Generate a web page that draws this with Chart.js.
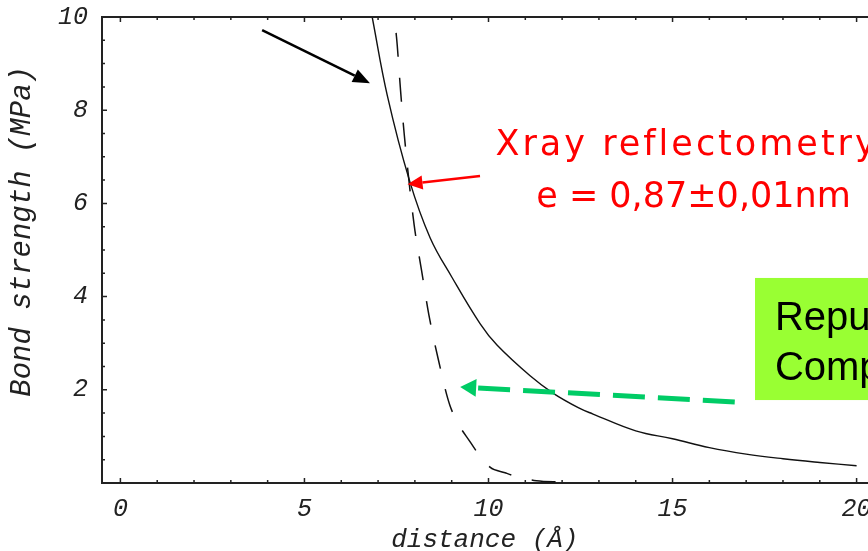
<!DOCTYPE html>
<html>
<head>
<meta charset="utf-8">
<title>Bond strength vs distance</title>
<script src="https://cdn.jsdelivr.net/npm/chart.js@4"></script>
<style>
  html, body { margin: 0; padding: 0; background: #fff; overflow: hidden; }
  #wrap { width: 880px; height: 551px; }
</style>
</head>
<body>
<div id="wrap"><canvas id="myChart" width="880" height="551"></canvas></div>
<script>
// measured curve (solid)
const distSolid = [6.84, 7.25, 7.85, 8.41, 9.01, 9.77, 10.23, 11.13, 11.75, 12.48, 12.84, 14, 15, 16, 17, 18, 19, 20];
const strengthSolid = [10, 8.32, 6.5, 5.27, 4.41, 3.42, 2.96, 2.3, 1.93, 1.6, 1.48, 1.12, 0.95, 0.76, 0.62, 0.52, 0.44, 0.37];

// model curve (dashed)
const distDashed = [7.49, 7.52, 7.61, 7.71, 7.98, 8.18, 8.38, 8.64, 8.95, 9.52, 10.04, 10.45, 10.8, 11.3, 12.0];
const strengthDashed = [9.66, 9.40, 8.43, 7.49, 5.54, 4.57, 3.61, 2.64, 1.67, 0.86, 0.34, 0.22, 0.13, 0.05, 0.02];

const xTickLabels = [0, 5, 10, 15, 20];
const yTickLabels = [2, 4, 6, 8, 10];

const monoFont = '"Liberation Mono", "Courier New", monospace';

function toPoints(xs, ys) {
    return xs.map((x, i) => ({ x: x, y: ys[i] }));
}

function arrow(ctx, x1, y1, x2, y2, color, width, headLen, headHalf, dash) {
    const ang = Math.atan2(y2 - y1, x2 - x1);
    const bx = x2 - Math.cos(ang) * headLen;
    const by = y2 - Math.sin(ang) * headLen;
    ctx.save();
    ctx.strokeStyle = color;
    ctx.fillStyle = color;
    ctx.lineWidth = width;
    ctx.setLineDash(dash || []);
    ctx.beginPath();
    ctx.moveTo(x1, y1);
    ctx.lineTo(bx, by);
    ctx.stroke();
    ctx.setLineDash([]);
    ctx.beginPath();
    ctx.moveTo(x2, y2);
    ctx.lineTo(bx + Math.sin(ang) * headHalf, by - Math.cos(ang) * headHalf);
    ctx.lineTo(bx - Math.sin(ang) * headHalf, by + Math.cos(ang) * headHalf);
    ctx.closePath();
    ctx.fill();
    ctx.restore();
}

// frame, inward ticks, axis titles and the notes on the plot
const framePlugin = {
    id: 'frame',
    afterDraw(chart) {
        const ctx = chart.ctx;
        const xs = chart.scales.x;
        const ys = chart.scales.y;
        const area = chart.chartArea;

        ctx.save();
        ctx.strokeStyle = '#222';
        ctx.lineWidth = 2;
        ctx.beginPath();
        ctx.moveTo(area.left - 1, area.top);
        ctx.lineTo(area.right, area.top);
        ctx.stroke();

        ctx.lineWidth = 1.5;
        ctx.beginPath();
        for (let v = 0; v <= 20; v++) {
            const px = xs.getPixelForValue(v);
            const len = v % 5 === 0 ? 5 : 3;
            ctx.moveTo(px, area.bottom);
            ctx.lineTo(px, area.bottom - len);
            ctx.moveTo(px, area.top);
            ctx.lineTo(px, area.top + len);
        }
        for (let v = 0.5; v < 10; v += 0.5) {
            const py = ys.getPixelForValue(v);
            const len = v % 2 === 0 ? 5 : 3;
            ctx.moveTo(area.left, py);
            ctx.lineTo(area.left + len, py);
        }
        ctx.stroke();

        // axis titles
        ctx.fillStyle = '#222';
        ctx.font = 'italic 26px ' + monoFont;
        ctx.textAlign = 'center';
        ctx.textBaseline = 'alphabetic';
        ctx.fillText('distance (Å)', xs.getPixelForValue(9.9), 547);
        ctx.save();
        ctx.translate(30, ys.getPixelForValue(5.4));
        ctx.rotate(-Math.PI / 2);
        ctx.font = 'italic 29px ' + monoFont;
        ctx.fillText('Bond strength (MPa)', 0, 0);
        ctx.restore();

        // arrows
        arrow(ctx, xs.getPixelForValue(3.85), ys.getPixelForValue(9.72),
              xs.getPixelForValue(6.78), ys.getPixelForValue(8.58), '#000', 2.5, 17, 7);
        arrow(ctx, xs.getPixelForValue(9.77), ys.getPixelForValue(6.59),
              xs.getPixelForValue(7.8), ys.getPixelForValue(6.41), '#ff0000', 2.5, 15, 7);

        // green note box
        const bx = xs.getPixelForValue(17.24);
        const by = ys.getPixelForValue(4.40);
        const bh = ys.getPixelForValue(1.78) - by;
        ctx.fillStyle = '#99ff33';
        ctx.fillRect(bx, by, 200, bh);
        ctx.fillStyle = '#000';
        ctx.font = '40px "Liberation Sans", Arial, sans-serif';
        ctx.textAlign = 'left';
        ctx.fillText('Repulsive', xs.getPixelForValue(17.78), ys.getPixelForValue(3.28));
        ctx.fillText('Compressive', xs.getPixelForValue(17.78), ys.getPixelForValue(2.21));

        arrow(ctx, xs.getPixelForValue(16.69), ys.getPixelForValue(1.74),
              xs.getPixelForValue(9.23), ys.getPixelForValue(2.06), '#00cc66', 5, 16, 9, [32, 13]);

        // red note
        ctx.fillStyle = '#ff0000';
        ctx.font = '35px "DejaVu Sans", sans-serif';
        ctx.textAlign = 'left';
        ctx.letterSpacing = '3px';
        ctx.fillText('Xray reflectometry', xs.getPixelForValue(10.19), ys.getPixelForValue(7.04));
        ctx.letterSpacing = '0px';
        ctx.textAlign = 'center';
        ctx.fillText('e = 0,87±0,01nm', xs.getPixelForValue(15.57), ys.getPixelForValue(5.92));
        ctx.restore();
    }
};

const config = {
    type: 'line',
    data: {
        datasets: [
            {
                label: 'measured',
                data: toPoints(distSolid, strengthSolid),
                borderColor: '#111',
                borderWidth: 1.4,
                pointRadius: 0,
                tension: 0.4
            },
            {
                label: 'model',
                data: toPoints(distDashed, strengthDashed),
                borderColor: '#111',
                borderWidth: 1.5,
                borderDash: [24, 21],
                pointRadius: 0,
                cubicInterpolationMode: 'monotone'
            }
        ]
    },
    options: {
        responsive: false,
        animation: false,
        layout: { padding: { top: 17, right: 5, left: 0, bottom: 0 } },
        plugins: { legend: { display: false }, tooltip: { enabled: false } },
        scales: {
            x: {
                type: 'linear',
                min: -0.5,
                max: 20.5,
                afterBuildTicks: s => { s.ticks = xTickLabels.map(v => ({ value: v })); },
                afterFit: s => {
                    s.height = 68;
                    s.paddingLeft = 0;
                    s.paddingRight = 0;
                },
                grid: { display: false, drawTicks: false },
                border: { display: true, color: '#222', width: 2 },
                ticks: {
                    padding: 11,
                    color: '#222',
                    maxRotation: 0,
                    font: { family: monoFont, style: 'italic', size: 25 }
                }
            },
            y: {
                type: 'linear',
                min: 0,
                max: 10,
                afterBuildTicks: s => { s.ticks = yTickLabels.map(v => ({ value: v })); },
                afterFit: s => {
                    s.width = 102;
                    s.paddingTop = 0;
                    s.paddingBottom = 0;
                },
                grid: { display: false, drawTicks: false },
                border: { display: true, color: '#222', width: 2 },
                ticks: {
                    padding: 14,
                    color: '#222',
                    font: { family: monoFont, style: 'italic', size: 25 }
                }
            }
        }
    },
    plugins: [framePlugin]
};

new Chart(document.getElementById('myChart'), config);
</script>
</body>
</html>
